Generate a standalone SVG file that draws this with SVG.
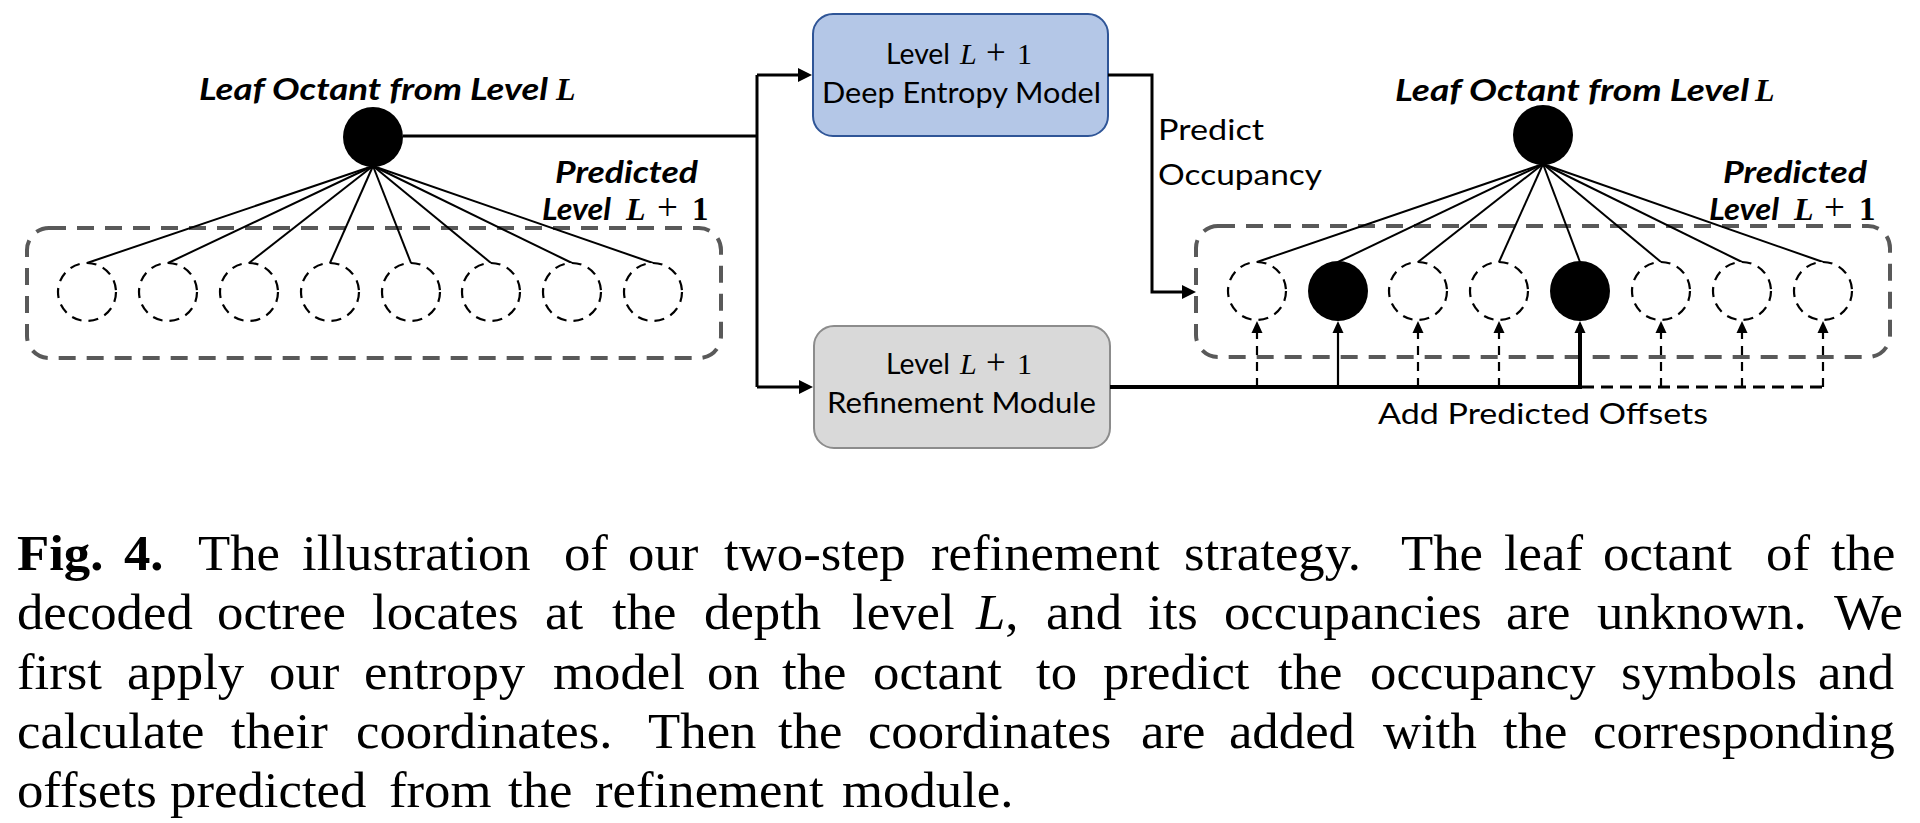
<svg xmlns="http://www.w3.org/2000/svg" width="1920" height="823" viewBox="0 0 1920 823">
<style>
.cap{font-family:"Liberation Serif","Times New Roman",serif;font-size:51px;fill:#000}
.capb{font-weight:bold}
.mi{font-family:"Liberation Serif",serif;font-style:italic}
.mr{font-family:"Liberation Serif",serif}
.lbl{font-family:Lato,"Liberation Sans",sans-serif;font-size:28px;fill:#000}
.bi{font-family:Lato,"Liberation Sans",sans-serif;font-size:30px;font-weight:bold;font-style:italic;fill:#000}
.bim{font-family:"Liberation Serif",serif;font-weight:bold;font-style:italic}
.bmr{font-family:"Liberation Serif",serif;font-weight:bold;font-style:normal}
.bpl{font-family:"Liberation Serif",serif;font-weight:normal;font-style:normal}
.grp{fill:none;stroke:#595959;stroke-width:4;stroke-dasharray:17 11}
.dc{fill:#fff;stroke:#000;stroke-width:2.2;stroke-dasharray:10 7}
.fan{stroke:#000;stroke-width:2;fill:none}
.flow{stroke:#000;stroke-width:3;fill:none}
</style>
<defs>
<marker id="ah" markerUnits="userSpaceOnUse" markerWidth="14" markerHeight="14" viewBox="0 0 14 14" refX="9" refY="7" orient="auto">
<path d="M0,0 L14,7 L0,14 Z" fill="#000"/>
</marker>
<marker id="ahs" markerUnits="userSpaceOnUse" markerWidth="12" markerHeight="12" viewBox="0 0 12 12" refX="8" refY="6" orient="auto">
<path d="M0,0.5 L12,6 L0,11.5 Z" fill="#000"/>
</marker>
</defs>

<g id="left-group">
<rect class="grp" x="27" y="228" width="694" height="130" rx="22"/>
<text class="bi" x="555" y="183" textLength="143" lengthAdjust="spacingAndGlyphs">Predicted</text>
<text class="bi" y="220"><tspan x="542" textLength="69" lengthAdjust="spacingAndGlyphs">Level</tspan><tspan class="bim" x="626" font-size="32">L</tspan><tspan class="bpl" x="657" font-size="37">+</tspan><tspan class="bmr" x="692" font-size="33">1</tspan></text>
</g>

<g id="left-fan">
<line class="fan" x1="373" y1="166" x2="87" y2="263"/>
<line class="fan" x1="373" y1="166" x2="168" y2="263"/>
<line class="fan" x1="373" y1="166" x2="249" y2="263"/>
<line class="fan" x1="373" y1="166" x2="330" y2="263"/>
<line class="fan" x1="373" y1="166" x2="411" y2="263"/>
<line class="fan" x1="373" y1="166" x2="491" y2="263"/>
<line class="fan" x1="373" y1="166" x2="572" y2="263"/>
<line class="fan" x1="373" y1="166" x2="653" y2="263"/>
</g>

<g id="left-children">
<circle class="dc" cx="87" cy="292" r="29"/>
<circle class="dc" cx="168" cy="292" r="29"/>
<circle class="dc" cx="249" cy="292" r="29"/>
<circle class="dc" cx="330" cy="292" r="29"/>
<circle class="dc" cx="411" cy="292" r="29"/>
<circle class="dc" cx="491" cy="292" r="29"/>
<circle class="dc" cx="572" cy="292" r="29"/>
<circle class="dc" cx="653" cy="292" r="29"/>
</g>

<g id="left-leaf">
<circle cx="373" cy="137" r="30" fill="#000"/>
<text class="bi" y="100"><tspan x="199" textLength="349" lengthAdjust="spacingAndGlyphs">Leaf Octant from Level</tspan><tspan class="bim" x="556" font-size="32">L</tspan></text>
</g>

<g id="entropy-model">
<rect x="813" y="14" width="295" height="122" rx="20" fill="#B4C7E7" stroke="#2F5597" stroke-width="2"/>
<text class="lbl" y="64"><tspan x="886" textLength="64" lengthAdjust="spacingAndGlyphs">Level</tspan><tspan class="mi" x="960" font-size="30">L</tspan><tspan class="mr" x="986" font-size="35">+</tspan><tspan class="mr" x="1017" font-size="30">1</tspan></text>
<text class="lbl" x="822" y="103" textLength="279" lengthAdjust="spacingAndGlyphs">Deep Entropy Model</text>
</g>

<g id="refinement-module">
<rect x="814" y="326" width="296" height="122" rx="20" fill="#D9D9D9" stroke="#8C8C8C" stroke-width="2"/>
<text class="lbl" y="374"><tspan x="886" textLength="64" lengthAdjust="spacingAndGlyphs">Level</tspan><tspan class="mi" x="960" font-size="30">L</tspan><tspan class="mr" x="986" font-size="35">+</tspan><tspan class="mr" x="1017" font-size="30">1</tspan></text>
<text class="lbl" x="827" y="413" textLength="269" lengthAdjust="spacingAndGlyphs">Refinement Module</text>
</g>

<g id="right-group">
<rect class="grp" x="1196" y="226" width="694" height="131" rx="22"/>
<text class="bi" x="1723" y="183" textLength="144" lengthAdjust="spacingAndGlyphs">Predicted</text>
<text class="bi" y="220"><tspan x="1709" textLength="70" lengthAdjust="spacingAndGlyphs">Level</tspan><tspan class="bim" x="1794" font-size="32">L</tspan><tspan class="bpl" x="1824" font-size="37">+</tspan><tspan class="bmr" x="1859" font-size="33">1</tspan></text>
</g>

<g id="right-fan">
<line class="fan" x1="1543" y1="164" x2="1257" y2="262"/>
<line class="fan" x1="1543" y1="164" x2="1338" y2="262"/>
<line class="fan" x1="1543" y1="164" x2="1418" y2="262"/>
<line class="fan" x1="1543" y1="164" x2="1499" y2="262"/>
<line class="fan" x1="1543" y1="164" x2="1580" y2="262"/>
<line class="fan" x1="1543" y1="164" x2="1661" y2="262"/>
<line class="fan" x1="1543" y1="164" x2="1742" y2="262"/>
<line class="fan" x1="1543" y1="164" x2="1823" y2="262"/>
</g>

<g id="right-children">
<circle class="dc" cx="1257" cy="291" r="29"/>
<circle cx="1338" cy="291" r="30" fill="#000"/>
<circle class="dc" cx="1418" cy="291" r="29"/>
<circle class="dc" cx="1499" cy="291" r="29"/>
<circle cx="1580" cy="291" r="30" fill="#000"/>
<circle class="dc" cx="1661" cy="291" r="29"/>
<circle class="dc" cx="1742" cy="291" r="29"/>
<circle class="dc" cx="1823" cy="291" r="29"/>
</g>

<g id="right-leaf">
<circle cx="1543" cy="135" r="30" fill="#000"/>
<text class="bi" y="101"><tspan x="1395" textLength="354" lengthAdjust="spacingAndGlyphs">Leaf Octant from Level</tspan><tspan class="bim" x="1755" font-size="32">L</tspan></text>
</g>

<g id="connectors">
<polyline class="flow" points="403,136 757,136"/>
<polyline class="flow" points="757,75 757,387"/>
<polyline class="flow" points="757,75 807,75" marker-end="url(#ah)"/>
<polyline class="flow" points="757,387 808,387" marker-end="url(#ah)"/>
<polyline class="flow" points="1108,75 1152,75 1152,292 1191,292" marker-end="url(#ah)"/>
<line x1="1110" y1="387" x2="1582" y2="387" stroke="#000" stroke-width="4"/>
<line x1="1582" y1="387" x2="1825" y2="387" stroke="#000" stroke-width="3" stroke-dasharray="12 7"/>
<line x1="1257" y1="387" x2="1257" y2="325" stroke="#000" stroke-width="2.2" stroke-dasharray="9 7" marker-end="url(#ahs)"/>
<line x1="1338" y1="387" x2="1338" y2="325" stroke="#000" stroke-width="2.2" marker-end="url(#ahs)"/>
<line x1="1418" y1="387" x2="1418" y2="325" stroke="#000" stroke-width="2.2" stroke-dasharray="9 7" marker-end="url(#ahs)"/>
<line x1="1499" y1="387" x2="1499" y2="325" stroke="#000" stroke-width="2.2" stroke-dasharray="9 7" marker-end="url(#ahs)"/>
<line x1="1580" y1="387" x2="1580" y2="325" stroke="#000" stroke-width="4" marker-end="url(#ahs)"/>
<line x1="1661" y1="387" x2="1661" y2="325" stroke="#000" stroke-width="2.2" stroke-dasharray="9 7" marker-end="url(#ahs)"/>
<line x1="1742" y1="387" x2="1742" y2="325" stroke="#000" stroke-width="2.2" stroke-dasharray="9 7" marker-end="url(#ahs)"/>
<line x1="1823" y1="387" x2="1823" y2="325" stroke="#000" stroke-width="2.2" stroke-dasharray="9 7" marker-end="url(#ahs)"/>
<text class="lbl" x="1158" y="140" textLength="106" lengthAdjust="spacingAndGlyphs">Predict</text>
<text class="lbl" x="1158" y="185" textLength="164" lengthAdjust="spacingAndGlyphs">Occupancy</text>
<text class="lbl" x="1378" y="424" textLength="330" lengthAdjust="spacingAndGlyphs">Add Predicted Offsets</text>
</g>

<g id="caption" transform="scale(1.035,1)">
<text class="cap" y="570"><tspan class="capb" x="16.4">Fig. </tspan><tspan class="capb" x="119.8">4. </tspan><tspan x="191.3">The </tspan><tspan x="291.8">illustration </tspan><tspan x="544.9">of </tspan><tspan x="606.8">our </tspan><tspan x="699.5">two-step </tspan><tspan x="899.5">refinement </tspan><tspan x="1144">strategy. </tspan><tspan x="1353.6">The </tspan><tspan x="1453.1">leaf </tspan><tspan x="1548.8">octant </tspan><tspan x="1706.3">of </tspan><tspan x="1769.1">the</tspan></text>
<text class="cap" y="629"><tspan x="16.4">decoded </tspan><tspan x="209.7">octree </tspan><tspan x="359.4">locates </tspan><tspan x="526.6">at </tspan><tspan x="591.3">the </tspan><tspan x="680.2">depth </tspan><tspan x="823.2">level </tspan><tspan x="943" font-style="italic">L</tspan><tspan>, </tspan><tspan x="1010.6">and </tspan><tspan x="1109.2">its </tspan><tspan x="1182.6">occupancies </tspan><tspan x="1455.1">are </tspan><tspan x="1543">unknown. </tspan><tspan x="1772">We</tspan></text>
<text class="cap" y="689"><tspan x="16.4">first </tspan><tspan x="122.7">apply </tspan><tspan x="259.9">our </tspan><tspan x="351.7">entropy </tspan><tspan x="534.3">model </tspan><tspan x="683.1">on </tspan><tspan x="755.6">the </tspan><tspan x="843.5">octant </tspan><tspan x="1001">to </tspan><tspan x="1065.7">predict </tspan><tspan x="1234.8">the </tspan><tspan x="1323.7">occupancy </tspan><tspan x="1566.2">symbols </tspan><tspan x="1756.5">and</tspan></text>
<text class="cap" y="748"><tspan x="16.4">calculate </tspan><tspan x="223.2">their </tspan><tspan x="344">coordinates. </tspan><tspan x="626.1">Then </tspan><tspan x="751.7">the </tspan><tspan x="838.6">coordinates </tspan><tspan x="1102.4">are </tspan><tspan x="1187.4">added </tspan><tspan x="1336.2">with </tspan><tspan x="1452.2">the </tspan><tspan x="1539.1">corresponding</tspan></text>
<text class="cap" y="807"><tspan x="16.4">offsets </tspan><tspan x="164.3">predicted </tspan><tspan x="375.8">from </tspan><tspan x="490.8">the </tspan><tspan x="574.9">refinement </tspan><tspan x="813.5">module.</tspan></text>
</g>
</svg>
